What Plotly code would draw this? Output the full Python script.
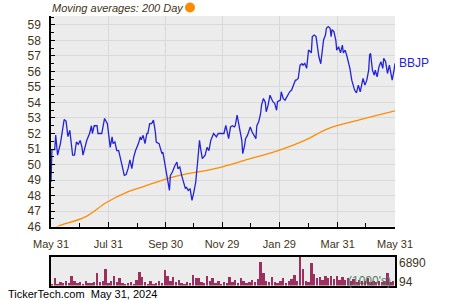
import pandas as pd
import plotly.graph_objects as go

START = pd.Timestamp("2023-05-31")

# BBJP close prices (day offset from 2023-05-31, value)
price_days = [0, 1, 4, 5, 7, 10, 14, 16, 18, 20, 23, 25, 27, 29, 31, 33, 34, 38, 41, 43, 44, 46, 49, 50, 54, 57, 60,
              63, 65, 66, 68, 70, 72, 75, 78, 80, 82, 84, 86, 88, 90, 93, 95, 96, 98, 100, 102, 103, 105, 107, 109,
              111, 112, 115, 118, 119, 121, 124, 126, 127, 129, 132, 134, 135, 137, 139, 141, 143, 144, 146, 148,
              150, 152, 154, 156, 158, 159, 161, 164, 166, 168, 170, 173, 176, 178, 182, 184, 186, 188, 189, 191,
              193, 195, 196, 198, 199, 201, 203, 204, 206, 207, 209, 211, 212, 214, 216, 218, 219, 221, 223, 224,
              226, 228, 229, 231, 233, 235, 236, 238, 240, 241, 244, 245, 247, 249, 251, 252, 254, 256, 258, 260,
              261, 263, 265, 267, 268, 270, 272, 274, 276, 277, 278, 280, 282, 284, 285, 287, 289, 290, 292, 293,
              295, 297, 298, 299, 301, 303, 304, 306, 308, 310, 311, 313, 315, 317, 318, 320, 322, 323, 325, 327,
              329, 331, 332, 334, 336, 338, 339, 340, 342, 344, 345, 347, 349, 351, 353, 354, 356, 358, 360, 361,
              363, 365, 366]
price_vals = [48.87, 50.96, 50.96, 51.9, 50.6, 51.35, 52.9, 52.8, 51.8, 52.2, 50.6, 50.6, 51.45, 51.3, 51.55, 51.1,
              50.6, 51.55, 52.0, 52.5, 52.0, 52.5, 52.5, 52.0, 52.0, 52.97, 52.64,
              51.1, 51.78, 51.35, 51.45, 50.9, 50.9, 50.06, 49.3, 49.35, 49.73, 50.3, 49.73, 50.48, 50.9, 51.35,
              51.78, 51.6, 51.88, 51.35, 52.0, 52.0, 52.64, 52.64, 52.86,
              52.1, 51.45, 51.35, 50.7, 50.8, 50.06, 49.2, 48.33, 49.3, 49.5, 49.95, 50.16, 49.73, 49.84, 49.3,
              48.76, 48.44, 48.55, 48.33, 48.44,
              47.68, 48.22, 48.87, 50.16, 51.56, 51.1, 50.38, 50.6, 51.1, 50.9, 51.56, 52.0, 51.78, 52.0, 52.02,
              52.0, 52.53, 51.78, 51.67, 52.42,
              52.5, 52.42, 52.5, 53.18, 52.75, 52.2, 51.56, 50.7, 51.24, 51.67, 51.88, 52.2, 52.42, 52.1, 51.88,
              51.67, 52.5, 52.75, 53.29, 53.83,
              54.26, 54.0, 53.4, 53.83, 54.47, 54.15, 54.05, 53.95, 53.5, 54.05, 54.15, 54.69, 54.26, 54.15,
              54.37, 54.47, 54.69, 54.8, 55.12, 55.44,
              55.44, 55.55, 56.41, 56.5, 56.41, 56.52, 56.2, 57.38, 57.28, 57.2, 58.25, 58.35, 58.25, 57.2, 56.95,
              56.5, 57.6, 58.03, 58.35, 58.79,
              58.9, 58.79, 58.25, 58.7, 58.57, 58.03, 57.38, 57.6, 57.2, 57.7, 57.2, 57.38, 56.95, 56.5, 56.2,
              55.44, 55.01, 54.8, 54.62, 55.12,
              54.69, 55.33, 55.55, 55.12, 55.44, 56.09, 57.06, 57.17, 56.09, 55.76, 56.09, 55.66, 56.31, 56.63,
              56.2, 56.85, 56.63, 55.87, 56.41, 56.09,
              55.44, 56.09, 56.52]

# 200-day moving average
ma_days = [0, 7, 36, 59, 81, 102, 123, 144, 166, 185, 206, 244, 270, 295, 327, 366]
ma_vals = [45.75, 46.0, 46.6, 47.55, 48.22, 48.65, 49.08, 49.4, 49.62, 49.9, 50.27, 50.95, 51.56, 52.32, 52.86,
           53.46]

# volume (thousands), one bar every 3 days
vol_step = 3
vol_vals = [600, 1900, 500, 900, 700, 1100, 800, 2300, 1200, 700, 900, 600, 1300, 800, 700, 1000, 3150, 900, 1200,
            3980, 700, 1100, 2300, 900, 2000, 800, 600, 700, 1000, 500, 1400, 3300, 2100, 900, 600, 1200, 500, 800,
            1100, 700, 3800, 2300, 1200, 2100, 900, 1500, 700, 600, 1000, 800, 2700, 2000, 1800, 900, 700, 2500,
            1200, 2000, 800, 1100, 600, 900, 700, 2100, 1000, 1500, 800, 2000, 1200, 700, 900, 1500, 1000, 1600,
            5800, 3000, 1200, 900, 2200, 1000, 700, 1300, 2000, 800, 1200, 1600, 2600, 1100, 6890, 4000, 1200, 900,
            5480, 2800, 1800, 2200, 1500, 2300, 1900, 2400, 1700, 2300, 1500, 2100, 1400, 1800, 1200, 1600, 1000,
            1500, 1300, 1100, 1800, 900, 1300, 1000, 1200, 900, 1100, 3150, 1000, 1300]

tick_dates = ["2023-05-31", "2023-07-31", "2023-09-30", "2023-11-29", "2024-01-29", "2024-03-31", "2024-05-31"]
tick_text = ["May 31", "Jul 31", "Sep 30", "Nov 29", "Jan 29", "Mar 31", "May 31"]
minor_dates = ["2023-06-30", "2023-08-31", "2023-10-30", "2023-12-29", "2024-02-29", "2024-04-30"]

price_x = START + pd.to_timedelta(price_days, unit="D")
ma_x = START + pd.to_timedelta(ma_days, unit="D")
vol_x = START + pd.to_timedelta([i * vol_step + 1 for i in range(len(vol_vals))], unit="D")

TXT = "#3f3418"
FONT = "Liberation Sans, Arial, sans-serif"

fig = go.Figure()
fig.add_trace(go.Scatter(x=ma_x, y=ma_vals, mode="lines", line=dict(color="#ff8c00", width=1.3),
                         line_shape="spline", xaxis="x", yaxis="y"))
fig.add_trace(go.Scatter(x=price_x, y=price_vals, mode="lines", line=dict(color="#2323d8", width=1.3),
                         xaxis="x", yaxis="y"))
fig.add_trace(go.Bar(x=vol_x, y=vol_vals, marker=dict(color="#9b2f5f", line=dict(width=0)),
                     width=vol_step * 86400000 * 0.85, xaxis="x2", yaxis="y2"))

xr = ["2023-05-31", "2024-05-31"]
fig.update_layout(
    template="none",
    width=450, height=300, margin=dict(l=0, r=0, t=0, b=0, autoexpand=False), autosize=False,
    paper_bgcolor="white", plot_bgcolor="#ececec", showlegend=False,
    font=dict(family=FONT, size=12, color=TXT),
    xaxis=dict(domain=[51 / 450, 395 / 450], anchor="y", range=xr, type="date", automargin=False,
               tickmode="array", tickvals=tick_dates, ticktext=tick_text,
               showgrid=True, gridcolor="#d9d9d9", gridwidth=1,
               showline=True, linecolor="black", linewidth=1.5,
               ticks="inside", ticklen=5, tickcolor="black", ticklabelstandoff=7,
               minor=dict(tickvals=minor_dates, ticks="inside", ticklen=4, tickcolor="black", showgrid=False),
               tickfont=dict(size=11, color=TXT), zeroline=False),
    yaxis=dict(domain=[1 - 226.5 / 300, 1 - 16 / 300], anchor="x", range=[46, 59.58], automargin=False,
               tickmode="linear", tick0=46, dtick=1,
               showgrid=True, gridcolor="#d9d9d9", gridwidth=1,
               showline=True, linecolor="black", linewidth=1.5,
               ticks="inside", ticklen=4, tickcolor="black", ticklabelstandoff=6,
               minor=dict(dtick=0.5, tick0=46, ticks="inside", ticklen=3, tickcolor="black", showgrid=False),
               tickfont=dict(size=12, color=TXT), zeroline=False),
    xaxis2=dict(domain=[51 / 450, 395 / 450], anchor="y2", range=xr, type="date", automargin=False,
                showticklabels=False, showgrid=False, ticks="",
                showline=True, mirror=True, linecolor="black", linewidth=1.5, zeroline=False),
    yaxis2=dict(domain=[1 - 285.5 / 300, 1 - 256.5 / 300], anchor="x2", range=[0, 6950], automargin=False,
                showticklabels=False, showgrid=False, ticks="",
                showline=True, mirror=True, linecolor="black", linewidth=1.5, zeroline=False),
    bargap=0,
)

annotations = [
    dict(text="<i>Moving averages: 200 Day</i>", x=50 / 450, y=1 - 8 / 300, xref="paper", yref="paper",
         xanchor="left", yanchor="middle", showarrow=False, font=dict(size=11, color=TXT)),
    dict(text="BBJP", x=397 / 450, y=price_vals[-1], xref="paper", yref="y", xanchor="left", yanchor="middle",
         showarrow=False, font=dict(size=12, color="#2323d8")),
    dict(text=str(max(vol_vals)), x=397 / 450, y=1 - 263 / 300, xref="paper", yref="paper", xanchor="left",
         yanchor="middle", showarrow=False, font=dict(size=12, color=TXT)),
    dict(text="94", x=397 / 450, y=1 - 282 / 300, xref="paper", yref="paper", xanchor="left",
         yanchor="middle", showarrow=False, font=dict(size=12, color=TXT)),
    dict(text="(1000's)", x=393 / 450, y=1 - 281 / 300, xref="paper", yref="paper", xanchor="right",
         yanchor="middle", showarrow=False, font=dict(size=12, color="#4f7f5f")),
    dict(text="TickerTech.com  May 31, 2024", x=6 / 450, y=1 - 294 / 300, xref="paper", yref="paper",
         xanchor="left", yanchor="middle", showarrow=False, font=dict(size=11, color="black")),
]
fig.update_layout(annotations=annotations)
fig.add_shape(type="circle", xref="paper", yref="paper",
              x0=185 / 450, x1=195 / 450, y0=1 - 12.5 / 300, y1=1 - 2.5 / 300,
              fillcolor="#ff8c00", line=dict(width=0))

fig.write_html("out.html")
